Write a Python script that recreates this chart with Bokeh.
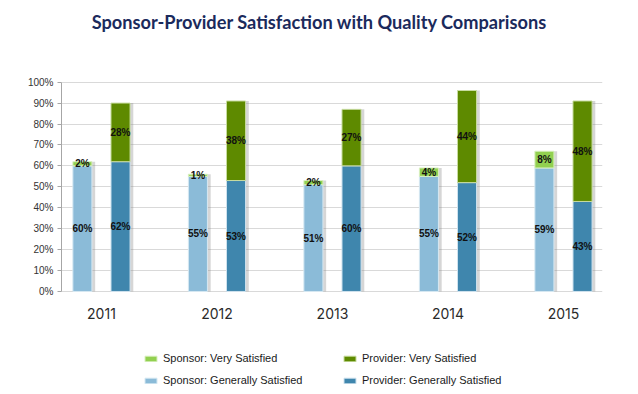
from bokeh.plotting import figure
from bokeh.models import (ColumnDataSource, Range1d, FixedTicker, PrintfTickFormatter,
                          Legend, LegendItem, LabelSet, Label)
from bokeh.embed import file_html
from bokeh.resources import INLINE
from bokeh.core.properties import value

title_text = "Sponsor-Provider Satisfaction with Quality Comparisons"
years = ["2011", "2012", "2013", "2014", "2015"]
sponsor_general = [60, 55, 51, 55, 59]
sponsor_very = [2, 1, 2, 4, 8]
provider_general = [62, 53, 60, 52, 43]
provider_very = [28, 38, 27, 44, 48]
y_ticks = [0, 10, 20, 30, 40, 50, 60, 70, 80, 90, 100]

C_SV = "#92d050"
C_SG = "#8bbbd8"
C_PV = "#5e8a00"
C_PG = "#3f86ad"

idx = list(range(len(years)))
OFF = 0.165
W = 0.165
SH = 0.028

def src(offset, gen, very):
    xs = [i + offset for i in idx]
    tot = [g + v for g, v in zip(gen, very)]
    return ColumnDataSource(dict(
        x=xs, xs=[x + SH for x in xs], gen=gen, very=very, tot=tot,
        gen_mid=[g / 2 for g in gen],
        very_mid=[g + v / 2 for g, v in zip(gen, very)],
        gen_lab=[f"{g}%" for g in gen],
        very_lab=[f"{v}%" for v in very],
    ))

s_src = src(-OFF, sponsor_general, sponsor_very)
p_src = src(OFF, provider_general, provider_very)
year_src = ColumnDataSource(dict(x=idx, y=[0] * len(idx), year=years))

p = figure(width=630, height=388, output_backend="svg", toolbar_location=None,
           x_range=Range1d(-0.346, 4.338), y_range=Range1d(-46.35, 139.0),
           x_axis_location=None,
           min_border_left=61, min_border_right=28, min_border_top=0, min_border_bottom=0)
p.outline_line_color = None
p.background_fill_color = "white"

p.add_layout(Label(x=1.888, y=128.5, text=title_text,
                   text_align="center", text_baseline="middle",
                   text_font="Lato", text_font_size="18.2px", text_font_style="bold",
                   text_color="#1b2a5c"))

# shadows
for s in (s_src, p_src):
    p.vbar(x="xs", bottom=0, top="tot", width=W, source=s,
           fill_color="#8a8a8a", fill_alpha=0.35, line_color=None)

r_sg = p.vbar(x="x", bottom=0, top="gen", width=W, source=s_src,
              fill_color=C_SG, line_color="#d6e8f2", line_width=1)
r_sv = p.vbar(x="x", bottom="gen", top="tot", width=W, source=s_src,
              fill_color=C_SV, line_color="#d9f0c0", line_width=1)
r_pg = p.vbar(x="x", bottom=0, top="gen", width=W, source=p_src,
              fill_color=C_PG, line_color="#cfe2ee", line_width=1)
r_pv = p.vbar(x="x", bottom="gen", top="tot", width=W, source=p_src,
              fill_color=C_PV, line_color="#c8dca0", line_width=1)

for s in (s_src, p_src):
    for yf, tf in (("gen_mid", "gen_lab"), ("very_mid", "very_lab")):
        p.add_layout(LabelSet(x="x", y=yf, text=tf, source=s,
                              text_align="center", text_baseline="middle",
                              text_font=value("Liberation Sans"), text_font_size="10px",
                              text_font_style="bold", text_color="#111111"))

# category (year) labels under each group
p.add_layout(LabelSet(x="x", y="y", text="year", source=year_src, y_offset=-22.5,
                      text_align="center", text_baseline="middle",
                      text_font=value("Inter"), text_font_size="14px",
                      text_color="#2a2a2a"))

# axes / grid
p.xgrid.grid_line_color = None
p.ygrid.grid_line_color = "#d9d9d9"
p.ygrid.ticker = FixedTicker(ticks=y_ticks)

p.yaxis.bounds = (0, 100)
p.yaxis.ticker = FixedTicker(ticks=y_ticks)
p.yaxis.formatter = PrintfTickFormatter(format="%d%%")
p.yaxis.axis_line_color = "#a6a6a6"
p.yaxis.major_tick_line_color = "#a6a6a6"
p.yaxis.major_tick_out = 4
p.yaxis.major_tick_in = 0
p.yaxis.minor_tick_line_color = None
p.yaxis.major_label_standoff = 4
p.yaxis.major_label_text_font = "Liberation Sans"
p.yaxis.major_label_text_font_size = "10px"
p.yaxis.major_label_text_color = "#333333"

def mk_legend(items, loc):
    return Legend(items=items, location=loc, orientation="vertical",
                  padding=0, margin=0, spacing=10, label_height=12,
                  glyph_width=15, glyph_height=7, label_standoff=5,
                  border_line_color=None, background_fill_alpha=0,
                  label_text_font="Liberation Sans", label_text_font_size="11px",
                  label_text_color="#1a1a1a")

p.add_layout(mk_legend([LegendItem(label="Sponsor: Very Satisfied", renderers=[r_sv]),
                        LegendItem(label="Sponsor: Generally Satisfied", renderers=[r_sg])],
                       (82, 2)))
p.add_layout(mk_legend([LegendItem(label="Provider: Very Satisfied", renderers=[r_pv]),
                        LegendItem(label="Provider: Generally Satisfied", renderers=[r_pg])],
                       (281, 2)))

open("out.html", "w").write(file_html(p, INLINE))
